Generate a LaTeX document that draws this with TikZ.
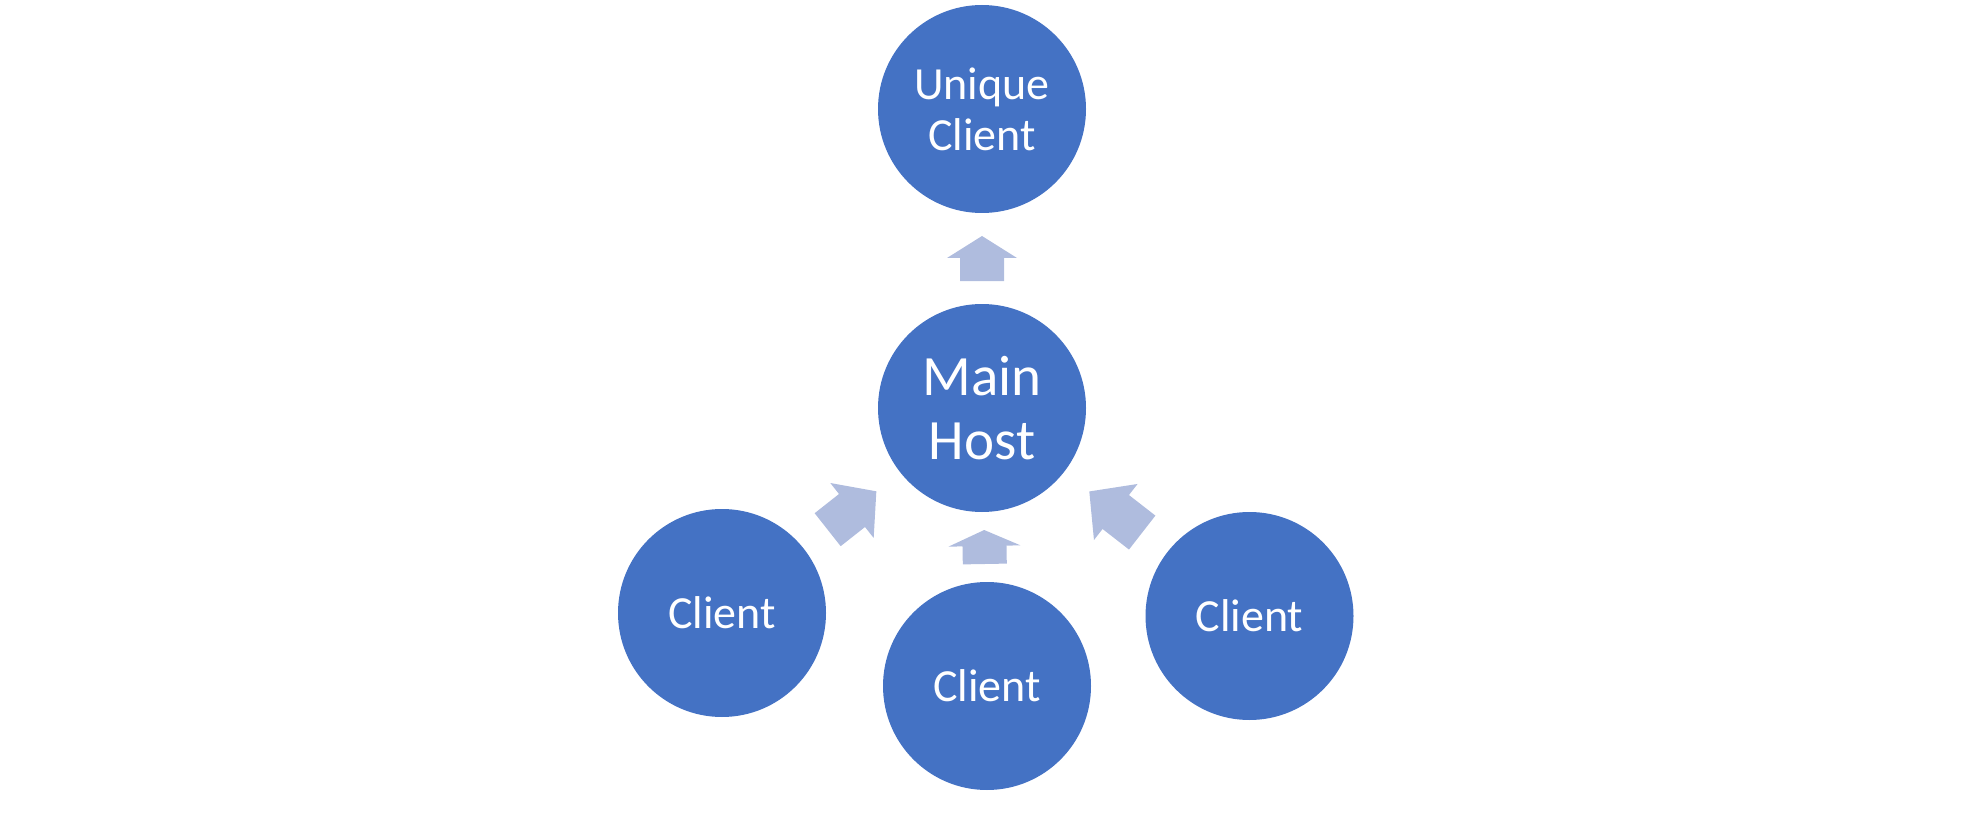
\documentclass[tikz,border=0pt]{standalone}
\usepackage{fontspec}
\setmainfont{Carlito}
\usetikzlibrary{calc}
\definecolor{hubblue}{RGB}{68,114,196}
\definecolor{arrowblue}{RGB}{175,188,222}
\tikzset{
  hub/.style={circle, fill=hubblue, draw=none, minimum size=208pt, inner sep=0pt,
    text=white, align=center, font=\fontsize{46}{51}\selectfont},
  bighub/.style={hub, font=\fontsize{57}{64}\selectfont},
  % block arrow: total length, head length, head half-width, shaft half-width
  pics/blockarrow/.style n args={4}{code={
    \fill[arrowblue] (#1/2,0) -- (#1/2-#2,#3) -- (#1/2-#2,#4) -- (-#1/2,#4)
      -- (-#1/2,-#4) -- (#1/2-#2,-#4) -- (#1/2-#2,-#3) -- cycle;}},
  onpath/.style={pos=0.5, sloped, allow upside down}
}
\begin{document}
\begin{tikzpicture}[x=1pt, y=-1pt]
  \useasboundingbox (0,0) rectangle (1963,813);

  \node[hub]    (uc)   at (982,109)   {Unique\\Client};
  \node[bighub] (host) at (982,408)   {Main\\Host};
  \node[hub]    (lc)   at (722,613)   {Client};
  \node[hub]    (bc)   at (987,686)   {Client};
  \node[hub]    (rc)   at (1249.5,616) {Client};

  \path (host.center) -- pic[onpath]{blockarrow={45}{22}{35}{22}} (uc.center);
  \path (bc.center)   -- pic[onpath]{blockarrow={34}{16}{36}{22}} (host.center);
  \path (lc.center)   -- pic[onpath]{blockarrow={62}{31}{35}{21}} (host.center);
  \path (rc.center)   -- pic[onpath]{blockarrow={67}{33.5}{35.5}{21.5}} (host.center);
\end{tikzpicture}
\end{document}
